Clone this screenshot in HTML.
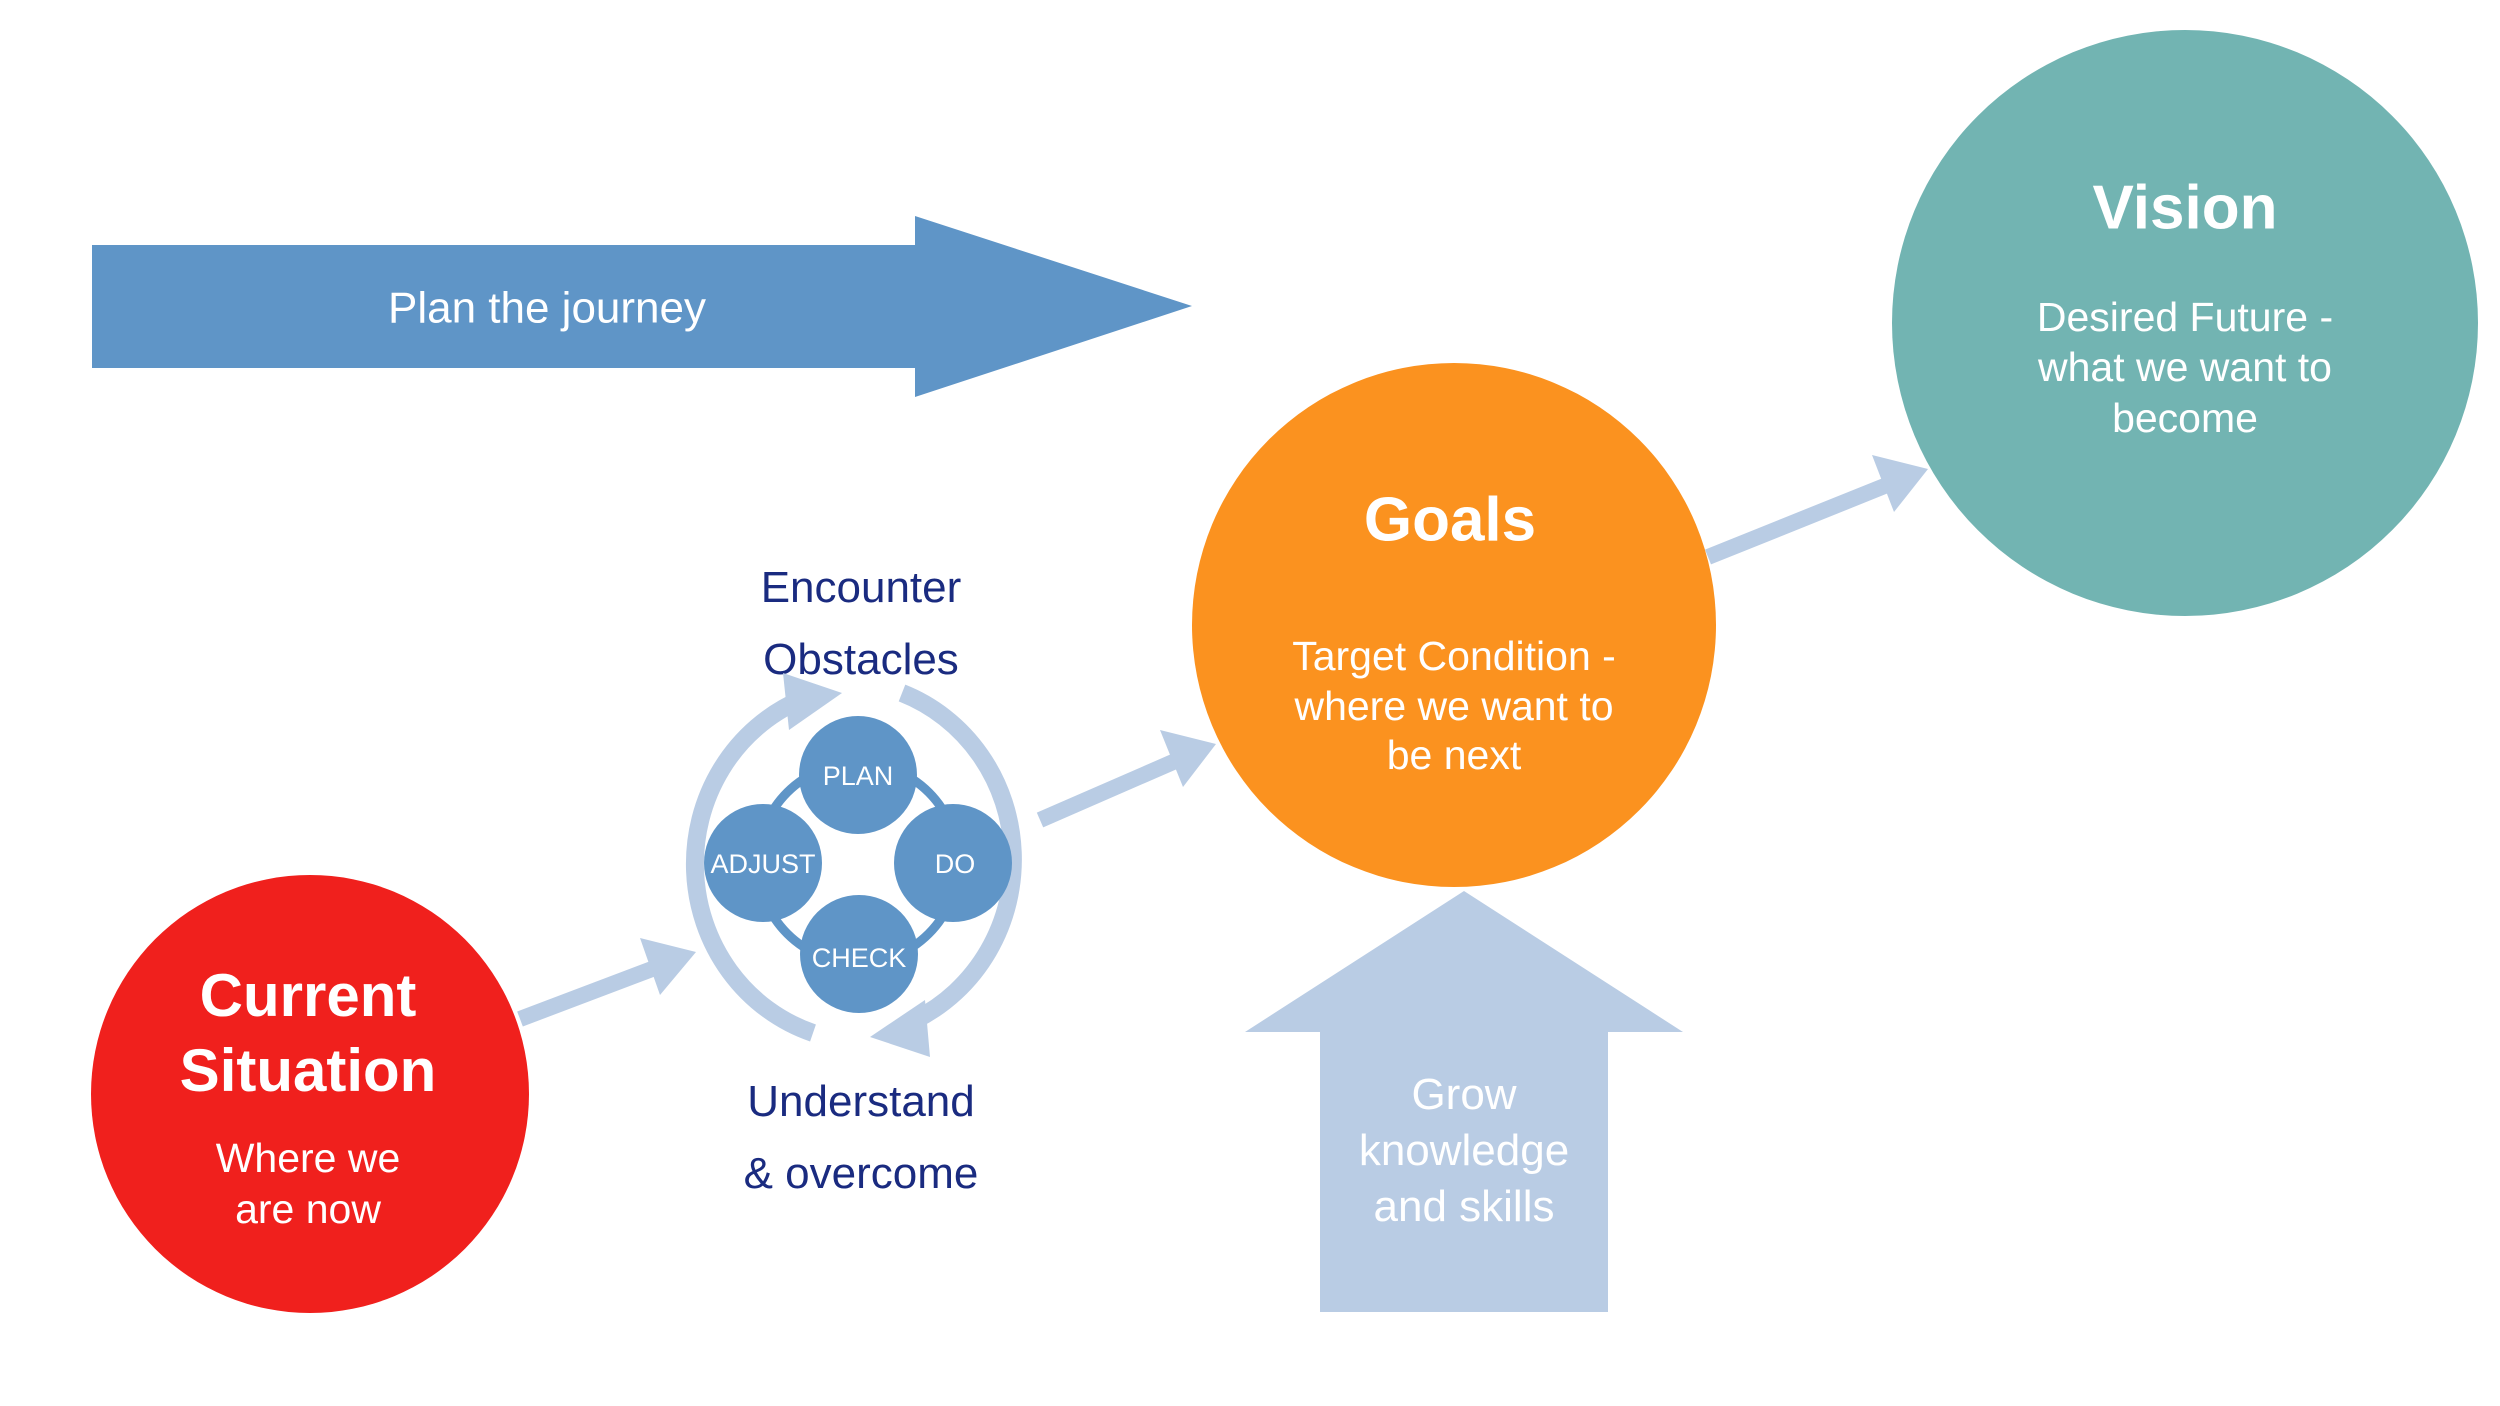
<!DOCTYPE html>
<html><head><meta charset="utf-8"><style>
html,body{margin:0;padding:0;background:#fff;}
svg{display:block;}
text{font-family:"Liberation Sans","DejaVu Sans",sans-serif;}
</style></head><body>
<svg width="2500" height="1406" viewBox="0 0 2500 1406" xmlns="http://www.w3.org/2000/svg">
<defs>
<marker id="ah" markerWidth="4" markerHeight="4" refX="2" refY="2" orient="auto" markerUnits="strokeWidth">
<path d="M0,0 L4,2 L0,4 L1,2 Z" fill="#b9cce4"/>
</marker>
</defs>
<!-- Plan the journey arrow -->
<polygon points="92,245 915,245 915,216 1192,306 915,397 915,368 92,368" fill="#5f95c7"/>
<text x="547" y="308" font-size="44" fill="#fff" text-anchor="middle" dominant-baseline="central">Plan the journey</text>

<!-- connectors -->
<line x1="520" y1="1019" x2="660" y2="966" stroke="#b9cce4" stroke-width="16"/>
<polygon points="696,952 640,938 660,995" fill="#b9cce4"/>
<line x1="1040" y1="820" x2="1180" y2="759" stroke="#b9cce4" stroke-width="16"/>
<polygon points="1216,744 1160,730 1183,787" fill="#b9cce4"/>
<line x1="1708" y1="557" x2="1892" y2="483" stroke="#b9cce4" stroke-width="16"/>
<polygon points="1928,469 1872,455 1894,512" fill="#b9cce4"/>

<!-- Vision -->
<circle cx="2185" cy="323" r="293" fill="#72b4b2"/>
<text x="2185" y="208" font-size="62" font-weight="bold" fill="#fff" text-anchor="middle" dominant-baseline="central">Vision</text>
<g font-size="41" fill="#fff" text-anchor="middle">
<text x="2185" y="331">Desired Future -</text>
<text x="2185" y="381">what we want to</text>
<text x="2185" y="432">become</text>
</g>

<!-- Goals -->
<circle cx="1454" cy="625" r="262" fill="#fb921f"/>
<text x="1450" y="520" font-size="62" font-weight="bold" fill="#fff" text-anchor="middle" dominant-baseline="central">Goals</text>
<g font-size="41" fill="#fff" text-anchor="middle">
<text x="1454" y="670">Target Condition -</text>
<text x="1454" y="720">where we want to</text>
<text x="1454" y="769">be next</text>
</g>

<!-- Current -->
<circle cx="310" cy="1094" r="219" fill="#f0201d"/>
<g font-size="60" font-weight="bold" fill="#fff" text-anchor="middle">
<text x="308" y="1016">Current</text>
<text x="308" y="1091">Situation</text>
</g>
<g font-size="41" fill="#fff" text-anchor="middle">
<text x="308" y="1172">Where we</text>
<text x="308" y="1223">are now</text>
</g>

<!-- Up arrow -->
<polygon points="1320,1312 1320,1032 1245,1032 1464,891 1683,1032 1608,1032 1608,1312" fill="#b9cce4"/>
<g font-size="44" fill="#fff" text-anchor="middle">
<text x="1464" y="1109">Grow</text>
<text x="1464" y="1165">knowledge</text>
<text x="1464" y="1221">and skills</text>
</g>

<!-- labels -->
<g font-size="44" fill="#1a2b80" text-anchor="middle">
<text x="861" y="602">Encounter</text>
<text x="861" y="674">Obstacles</text>
<text x="861" y="1116">Understand</text>
<text x="861" y="1188">&amp; overcome</text>
</g>

<!-- cycle outer arcs -->
<path d="M813,1033 A172,178 0 0 1 800,700" fill="none" stroke="#b9cce4" stroke-width="18"/>
<polygon points="842,693 783,673 789,730" fill="#b9cce4"/>
<path d="M902,693 A172,178 0 0 1 915,1020" fill="none" stroke="#b9cce4" stroke-width="18"/>
<polygon points="870,1037 925,1000 930,1057" fill="#b9cce4"/>

<!-- PDCA -->
<circle cx="858" cy="863" r="100" fill="none" stroke="#5f95c7" stroke-width="9"/>
<g fill="#5f95c7">
<circle cx="858" cy="775" r="59"/>
<circle cx="953" cy="863" r="59"/>
<circle cx="763" cy="863" r="59"/>
<circle cx="859" cy="954" r="59"/>
</g>
<g font-size="27" fill="#fff" text-anchor="middle" dominant-baseline="central">
<text x="858" y="776">PLAN</text>
<text x="955" y="864">DO</text>
<text x="763" y="864">ADJUST</text>
<text x="859" y="958">CHECK</text>
</g>
</svg>
</body></html>
